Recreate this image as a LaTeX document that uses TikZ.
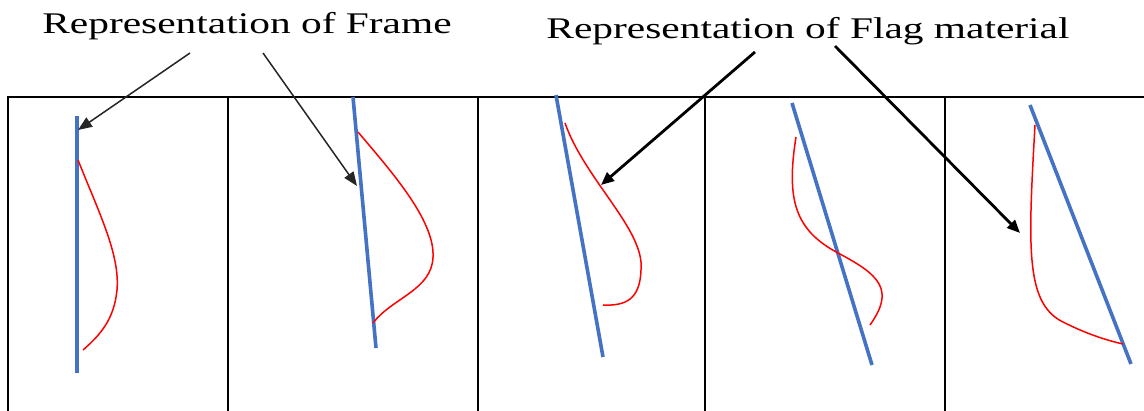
\documentclass[tikz,border=0pt]{standalone}
\usepackage{fontspec}
\setmainfont{Liberation Serif}
\usetikzlibrary{arrows.meta}
\definecolor{frameblue}{RGB}{68,114,196}
\tikzset{
  panel/.style={draw=black, line width=1.8pt},
  pole/.style={draw=frameblue, line width=3.6pt},
  flag/.style={draw=red, line width=1.5pt},
  thinarrow/.style={draw=black!85, line width=1.5pt, -{Triangle[length=14pt,width=11pt]}},
  thickarrow/.style={draw=black, line width=2.8pt, -{Triangle[length=13pt,width=11pt]}},
  lbl/.style={inner sep=0pt, anchor=base, font=\fontsize{30}{32}\selectfont}
}
\begin{document}
\begin{tikzpicture}[x=1pt,y=-1pt]
\useasboundingbox (0,0) rectangle (1144,411);
% panels
\draw[panel] (8,411) -- (8,97) -- (1144,97);
\draw[panel] (228,97) -- (228,411);
\draw[panel] (478,97) -- (478,411);
\draw[panel] (705,97) -- (705,411);
\draw[panel] (945,97) -- (945,411);
% poles
\draw[pole] (77,116) -- (77,373);
\draw[pole] (353,97) -- (376,348);
\draw[pole] (556,95) -- (603,357);
\draw[pole] (792,103) -- (872,365);
\draw[pole] (1030,105) -- (1131,364);
% flags
\draw[flag] (78,160) .. controls (100,215) and (120,255) .. (117,290) .. controls (114,320) and (100,335) .. (83,350);
\draw[flag] (358,132) .. controls (390,170) and (435,220) .. (433,257) .. controls (432,290) and (392,298) .. (373,323);
\draw[flag] (565,123) .. controls (585,180) and (645,230) .. (641,270) .. controls (640,300) and (625,306) .. (603,305);
\draw[flag] (796,137) .. controls (786,200) and (795,230) .. (838,253) .. controls (880,275) and (895,290) .. (870,325);
\draw[flag] (1035,125) .. controls (1028,250) and (1025,305) .. (1065,323) .. controls (1085,333) and (1105,340) .. (1123,344);
% labels
\node[lbl] (frame) at (247,34) {\scalebox{1.38}[1]{Representation of Frame}};
\node[lbl] (flag) at (808,39) {\scalebox{1.38}[1]{Representation of Flag material}};
% arrow anchors
\coordinate (fa1) at (190,53);
\coordinate (fa2) at (263,53);
\coordinate (ga1) at (755,52);
\coordinate (ga2) at (835,46);
\coordinate (ft1) at (78,130);
\coordinate (ft2) at (357,186);
\coordinate (gt1) at (601,185);
\coordinate (gt2) at (1020,233);
\draw[thinarrow] (fa1) -- (ft1);
\draw[thinarrow] (fa2) -- (ft2);
\draw[thickarrow] (ga1) -- (gt1);
\draw[thickarrow] (ga2) -- (gt2);
\end{tikzpicture}
\end{document}
